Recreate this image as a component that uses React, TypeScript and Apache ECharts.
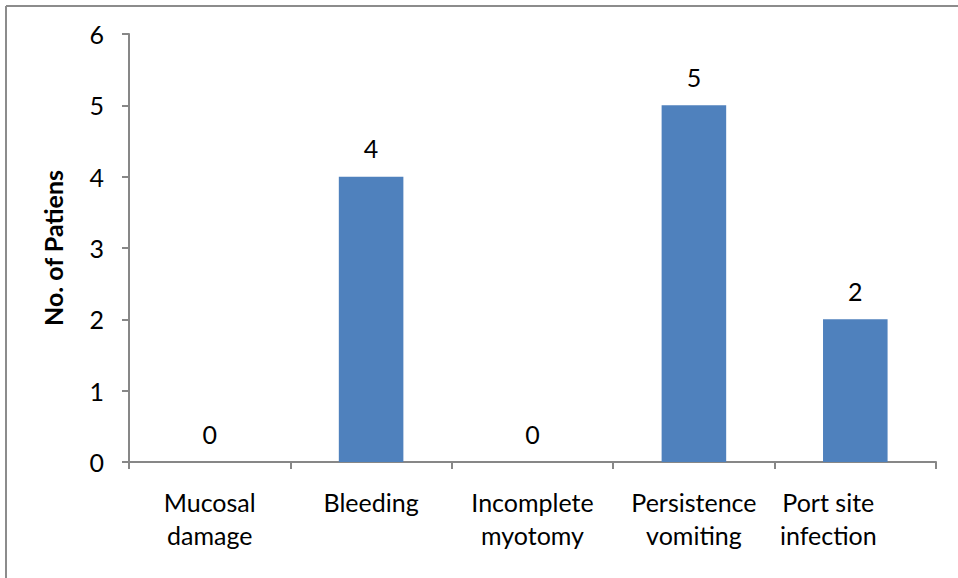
import React, { useEffect, useRef } from "react";
import * as echarts from "echarts";

const categories = [
  "Mucosal\ndamage",
  "Bleeding",
  "Incomplete\nmyotomy",
  "Persistence\nvomiting",
  "Port site\ninfection",
];
const patients = [0, 4, 0, 5, 2];
const yAxisTitle = "No. of Patiens";

const FONT = "Lato";
const AXIS_COLOR = "#878787";
const BAR_COLOR = "#4F81BD";

export default function App() {
  const ref = useRef<HTMLDivElement>(null);

  useEffect(() => {
    if (!ref.current) return;
    const chart = echarts.init(ref.current, undefined, { renderer: "svg" });
    const catData = categories.map((c, i) =>
      i === categories.length - 1
        ? { value: c, textStyle: { padding: [0, 54, 0, 0] } }
        : c
    );
    chart.setOption({
      animation: false,
      backgroundColor: "#ffffff",
      textStyle: { fontFamily: FONT, color: "#000" },
      grid: { left: 129, right: 22, top: 34, bottom: 116, containLabel: false },
      xAxis: {
        type: "category",
        data: catData,
        axisLine: { show: true, lineStyle: { color: AXIS_COLOR, width: 2 } },
        axisTick: { show: true, length: 7, lineStyle: { color: AXIS_COLOR, width: 2 } },
        axisLabel: {
          interval: 0,
          margin: 23,
          fontFamily: FONT,
          fontSize: 25,
          lineHeight: 33,
          color: "#000",
        },
        splitLine: { show: false },
      },
      yAxis: {
        type: "value",
        min: 0,
        max: 6,
        interval: 1,
        name: yAxisTitle,
        nameLocation: "middle",
        nameGap: 64,
        nameRotate: 90,
        nameTextStyle: { fontFamily: FONT, fontSize: 25, fontWeight: "bold", color: "#000" },
        axisLine: { show: true, lineStyle: { color: AXIS_COLOR, width: 2 } },
        axisTick: { show: true, length: 7, lineStyle: { color: AXIS_COLOR, width: 2 } },
        axisLabel: { margin: 25, fontFamily: FONT, fontSize: 25, color: "#000" },
        splitLine: { show: false },
      },
      series: [
        {
          type: "bar",
          data: patients,
          barWidth: "40%",
          itemStyle: { color: BAR_COLOR },
          label: {
            show: true,
            position: "top",
            distance: 16,
            fontFamily: FONT,
            fontSize: 25,
            color: "#000",
          },
        },
      ],
      graphic: [
        {
          type: "line",
          shape: { x1: 6, y1: 6, x2: 958, y2: 6 },
          style: { stroke: "#8c8c8c", lineWidth: 2 },
        },
        {
          type: "line",
          shape: { x1: 6, y1: 6, x2: 6, y2: 578 },
          style: { stroke: "#8c8c8c", lineWidth: 2 },
        },
      ],
    });
    return () => chart.dispose();
  }, []);

  return (
    <div
      ref={ref}
      style={{ position: "fixed", left: 0, top: 0, width: 958, height: 578 }}
    />
  );
}
